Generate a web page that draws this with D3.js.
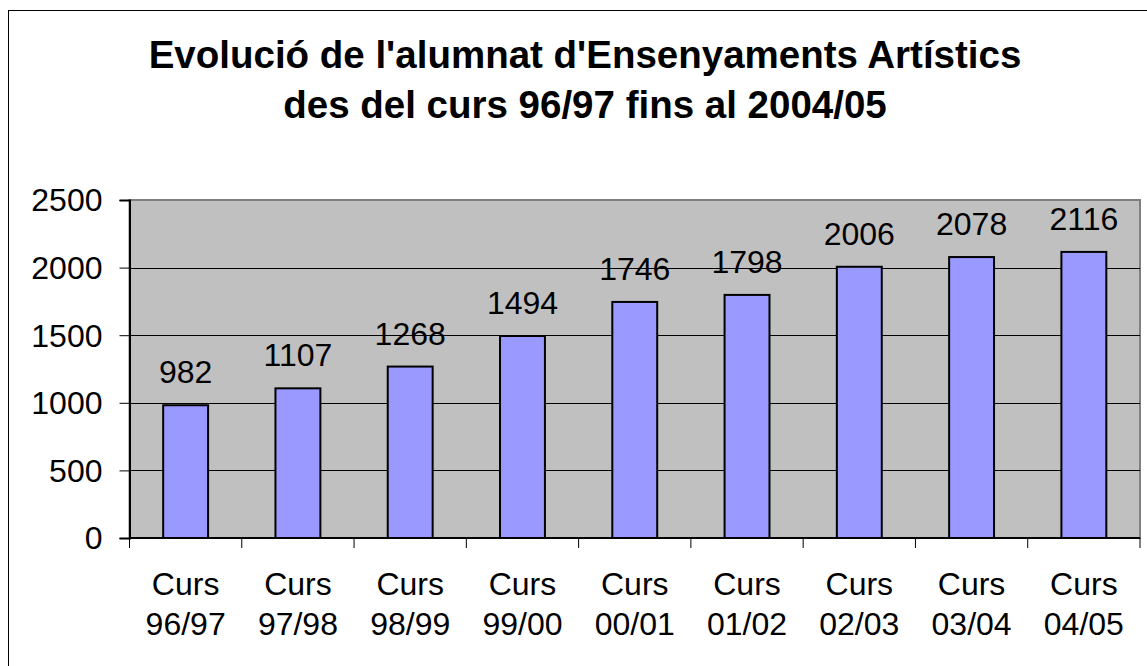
<!doctype html>
<html>
<head>
<meta charset="utf-8">
<script src="https://d3js.org/d3.v7.min.js"></script>
<style>
  body { margin: 0; background: #fff; }
  text { font-family: Arial, "Liberation Sans", sans-serif; fill: #000; }
</style>
</head>
<body>
<svg width="1147" height="666"></svg>
<script>
    // data
    var cursos = ["96/97", "97/98", "98/99", "99/00", "00/01", "01/02", "02/03", "03/04", "04/05"];
    var alumnes = [982, 1107, 1268, 1494, 1746, 1798, 2006, 2078, 2116];
    var yTicks = [0, 500, 1000, 1500, 2000, 2500];
    var titol = ["Evolució de l'alumnat d'Ensenyaments Artístics", "des del curs 96/97 fins al 2004/05"];

    var data = cursos.map(function(c, i) { return { curs: c, valor: alumnes[i] }; });

    var svg = d3.select("svg");

    // outer chart border
    svg.append("rect")
       .attr("x", 8.5).attr("y", 10.5)
       .attr("width", 1154).attr("height", 680)
       .attr("fill", "#fff")
       .attr("stroke", "#000")
       .attr("stroke-width", 1);

    svg.selectAll(".titol")
       .data(titol)
       .enter().append("text")
       .attr("class", "titol")
       .attr("x", 585)
       .attr("y", function(d, i) { return 68 + i * 50; })
       .attr("text-anchor", "middle")
       .attr("font-size", "38.5px")
       .attr("font-weight", "bold")
       .text(function(d) { return d; });

    var plotLeft = 129.5, plotTop = 200, plotRight = 1140, plotBottom = 538;
    var width = plotRight - plotLeft, height = plotBottom - plotTop;

    var xScale = d3.scaleBand().domain(cursos).range([0, width]).paddingInner(0.6).paddingOuter(0.3),
        xBand = d3.scaleBand().domain(cursos).range([0, width]),
        yScale = d3.scaleLinear().domain([0, 2500]).range([height, 0]);

    var g = svg.append("g").attr("transform", "translate(" + plotLeft + "," + plotTop + ")");

    g.append("rect")
     .attr("width", width).attr("height", height)
     .attr("fill", "#c0c0c0")
     .attr("stroke", "#808080")
     .attr("stroke-width", 2);

    // gridlines
    g.selectAll(".grid")
     .data(yTicks.slice(1, -1))
     .enter().append("line")
     .attr("class", "grid")
     .attr("x1", 0).attr("x2", width)
     .attr("y1", function(d) { return Math.round(yScale(d)) + 0.5; })
     .attr("y2", function(d) { return Math.round(yScale(d)) + 0.5; })
     .attr("stroke", "#000")
     .attr("stroke-width", 1);

    g.selectAll(".bar")
     .data(data)
     .enter().append("rect")
     .attr("class", "bar")
     .attr("x", function(d) { return xScale(d.curs); })
     .attr("y", function(d) { return yScale(d.valor); })
     .attr("width", xScale.bandwidth())
     .attr("height", function(d) { return height - yScale(d.valor); })
     .attr("fill", "#9999ff")
     .attr("stroke", "#000")
     .attr("stroke-width", 2);

    g.selectAll(".etiqueta")
     .data(data)
     .enter().append("text")
     .attr("class", "etiqueta")
     .attr("x", function(d) { return xScale(d.curs) + xScale.bandwidth() / 2; })
     .attr("y", function(d) { return yScale(d.valor) - 22; })
     .attr("text-anchor", "middle")
     .attr("font-size", "32px")
     .text(function(d) { return d.valor; });

    // y axis
    var yAxis = g.append("g")
     .call(d3.axisLeft(yScale).tickValues(yTicks).tickFormat(d3.format("d")).tickSize(10).tickPadding(17));
    yAxis.select(".domain").attr("stroke", "#000").attr("stroke-width", 2);
    yAxis.selectAll("text").attr("font-size", "32px").attr("font-family", "Arial, 'Liberation Sans', sans-serif").attr("dy", "0.34em");

    // x axis: ticks between categories
    var xAxisG = g.append("g").attr("transform", "translate(0," + height + ")");
    xAxisG.append("line")
      .attr("x1", 0).attr("x2", width)
      .attr("stroke", "#000").attr("stroke-width", 2);
    xAxisG.selectAll(".xtick")
      .data(cursos.concat(["fi"]))
      .enter().append("line")
      .attr("class", "xtick")
      .attr("x1", function(d, i) { return i < cursos.length ? xBand(d) : width; })
      .attr("x2", function(d, i) { return i < cursos.length ? xBand(d) : width; })
      .attr("y1", 0).attr("y2", 10)
      .attr("stroke", "#000").attr("stroke-width", 1);

    var xl = xAxisG.selectAll(".xlabel")
      .data(cursos)
      .enter().append("text")
      .attr("class", "xlabel")
      .attr("text-anchor", "middle")
      .attr("font-size", "32px")
      .attr("x", function(d) { return xBand(d) + xBand.bandwidth() / 2; });
    xl.append("tspan").attr("x", function(d) { return xBand(d) + xBand.bandwidth() / 2; }).attr("y", 57).text("Curs");
    xl.append("tspan").attr("x", function(d) { return xBand(d) + xBand.bandwidth() / 2; }).attr("y", 97).text(function(d) { return d; });
</script>
</body>
</html>
